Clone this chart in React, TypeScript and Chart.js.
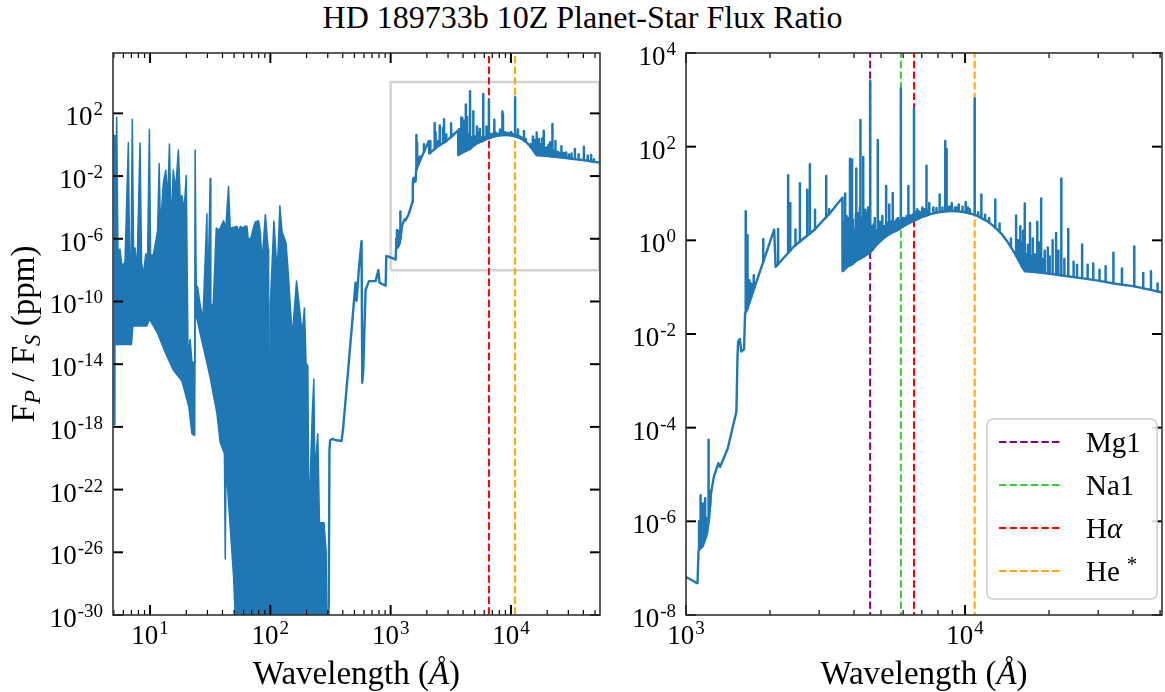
import React, { useEffect, useRef } from "react";
import { Chart, registerables } from "chart.js";

Chart.register(...registerables);

const BLUE = "#1f77b4";
const SERIF = '"Liberation Serif", "DejaVu Serif", serif';

const titleText = "HD 189733b 10Z Planet-Star Flux Ratio";

// X-ray / EUV line forest (5 - 300 Å): upper and lower envelopes
const forestTopWave = [
  4.95, 5.06, 5.11, 5.28, 5.41, 5.62, 5.84, 6.19, 6.6, 6.75,
  6.95, 7.12, 7.29, 7.5, 7.79, 8.25, 8.5, 8.8, 9.21, 9.53,
  9.87, 10.1, 10.65, 11.2, 11.55, 11.9, 12.2, 12.9, 13.5, 14.0,
  14.5, 14.8, 15.2, 15.6, 16.3, 17.2, 17.8, 18.4, 19.2, 20.0,
  20.7, 21.5, 22.3, 23.5, 23.7, 24.2, 24.8, 26.1, 27.5, 29.7,
  30.1, 31.6, 32.0, 33.5, 35.5, 37.6, 40.8, 42.6, 44.9, 46.4,
  52.8, 54.6, 56.2, 59.3, 59.8, 60.5, 61.0, 63.9, 65.6, 69.1,
  72.2, 75.0, 79.9, 82.5, 85.3, 90.9, 96.0, 96.8, 97.8, 100,
  107, 114, 120, 125, 135, 142, 152, 165, 172, 184,
  192, 198, 205, 209, 223, 230, 234, 248, 256, 279, 291, 297,
];
const forestTopFlux = [
  3.84, 3.84, 1.4e-7, 55.6, 1.4e-7, 2.2e-7, 1.8e-8, 3.3e-8, 1.33, 1.4e-7,
  3.3e-8, 42.6, 1.9e-7, 2.6e-7, 1.0e-8, 1.28, 3.3e-8, 4.9e-9, 1.1e-7, 3.3e-8,
  9.5, 9.1e-8, 9.1e-8, 8.3e-7, 3.6e-6, 0.063, 4.9e-6, 3.7e-3, 0.024, 3.0e-4,
  1.13, 3.0e-4, 1.15e-4, 0.024, 1.3e-3, 0.46, 3.0e-4, 5.7e-4, 6.8e-5, 0.0107,
  2.5e-14, 3.8e-13, 1.4e-14, 1.2e-14, 0.46, 9.1e-10, 9.1e-10, 6.4e-11, 7.4e-12, 4e-5,
  2.2e-11, 7e-3, 6.4e-11, 6.4e-11, 4.7e-6, 3.6e-6, 1.4e-5, 4.7e-6, 2.2e-3, 4.7e-6,
  6.2e-6, 2.8e-6, 6.2e-6, 4.9e-6, 1e-33, 1e-33, 6.2e-6, 6.2e-6, 8.3e-7, 1.2e-6,
  4.9e-6, 1.2e-5, 1.4e-5, 2.7e-6, 3.0e-8, 3.5e-5, 2e-7, 1e-33, 1e-33, 6.4e-11,
  1.35e-5, 6e-9, 1.3e-4, 2.8e-6, 5.6e-7, 2.7e-9, 5.4e-13, 2.0e-9, 1.07e-10, 8.9e-13,
  3.8e-11, 1.2e-14, 7.6e-15, 7.8e-25, 7e-18, 1.1e-15, 1.4e-21, 3.7e-19, 7.8e-25, 7.8e-25, 1.1e-26, 1e-33,
];
const forestBottomWave = [
  4.95, 5.06, 5.11, 7.0, 7.2, 9.4, 9.9, 11.5, 13.3, 15.6,
  18.4, 21.0, 22.3, 23.5, 23.7, 24.2, 26.1, 29.7, 31.6, 36.0,
  38.3, 41.5, 42.2, 42.9, 44.0, 49.5, 52.8, 300,
];
const forestBottomFlux = [
  1.4e-18, 1.4e-18, 1.8e-13, 1.8e-13, 2.7e-12, 2.7e-12, 7.6e-12, 1e-12, 6.3e-14, 4.3e-15,
  8.5e-16, 2e-17, 3.7e-19, 2.8e-19, 1.3e-11, 1.3e-11, 8.9e-13, 1.2e-14, 1.4e-15, 7e-18,
  1e-19, 2e-20, 3.8e-27, 5e-20, 1.6e-22, 2.5e-28, 1e-33, 1e-33,
];

// Continuum of the spectrum from 300 Å to the infrared
const continuumWave = [
  301, 306, 310, 314, 327, 355, 391, 403, 449, 511,
  521, 545, 573, 581, 592, 619, 660, 750, 790, 809,
  909, 920, 981, 1000, 1096, 1100, 1109, 1150, 1190, 1212,
  1229, 1258, 1306, 1324, 1411, 1516, 1529, 1537, 1560, 1578,
  1614, 1628, 1650, 2070, 2095, 2435, 2893, 3300, 3634, 3640,
  3700, 3800, 3937, 4100, 4218, 4350, 4571, 4800, 5100, 5400,
  5800, 6200, 6563, 7000, 7500, 8000, 8500, 9000, 9500, 10000,
  10500, 11000, 11500, 12000, 12500, 13000, 13600, 14200, 14800, 15400,
  16000, 16400, 18000, 20000, 22000, 25000, 30000, 35000, 40000, 45000,
  50000, 55000,
];
const continuumFlux = [
  1e-32, 9e-30, 3.4e-20, 1.4e-19, 1.7e-19, 1.4e-19, 1.25e-19, 8.5e-19, 1.3e-14, 1.6e-9,
  1.1e-10, 1.35e-8, 7e-7, 6.6e-16, 4.3e-15, 5.4e-10, 2e-9, 2e-9, 1e-8, 1.6e-9,
  1.0e-9, 7.9e-8, 6.9e-8, 6.5e-8, 4.8e-8, 4.9e-8, 2.4e-7, 3.0e-7, 5.6e-7, 1.26e-6,
  3.9e-6, 8.9e-6, 1.74e-5, 1.45e-5, 3.6e-5, 2.2e-4, 3.0e-3, 6.9e-3, 7.8e-3, 4.2e-3,
  4.7e-3, 0.0275, 0.0316, 1.7, 0.27, 0.74, 1.7, 4.0, 8.1, 0.22,
  0.24, 0.28, 0.31, 0.38, 0.41, 0.46, 0.55, 0.79, 1.12, 1.41,
  1.74, 2.24, 2.63, 3.16, 3.63, 3.98, 4.17, 4.27, 4.17, 3.98,
  3.72, 3.39, 2.95, 2.57, 2.14, 1.74, 1.32, 0.93, 0.63, 0.42,
  0.275, 0.22, 0.21, 0.195, 0.18, 0.162, 0.138, 0.117, 0.105, 0.091,
  0.079, 0.072,
];

// Emission lines on top of the continuum: wavelength, continuum level, peak
const spikeWave = [
  1114, 1128, 1140, 1148, 1160, 1171, 1180, 1205, 1220,
  1637, 1661, 1686, 1713, 1749, 1892, 2138,
  2323, 2364, 2468, 2560, 2720, 2780, 2900, 3180, 3259,
  3655, 3670, 3700, 3718, 3730, 3760, 3790, 3820, 3850, 3870,
  3900, 3937, 3965, 3995, 4025, 4060, 4076, 4100, 4135, 4170,
  4200, 4218, 4250, 4285, 4316, 4350, 4385, 4420, 4455, 4490, 4530, 4571,
  4650, 4704, 4750, 4868, 4950, 5053, 5126, 5215, 5276, 5352,
  5429, 5508, 5600, 5750, 5890, 6000, 6266, 6400, 6563, 6733,
  6900, 7029, 7275, 7443, 7700, 8111, 8300, 8492, 8541, 8590,
  8700, 8968, 9200, 9497, 9800, 10058, 10400, 10830, 11442, 11800,
  12834, 13300, 14602,
  15242, 15500, 15776, 16000, 16150, 16373, 16800, 17094, 17500, 18150,
  18400, 18740, 19300, 19800, 20600, 21200, 21600, 22130, 23440, 24500,
  25200, 26280, 27500, 28800, 30340, 31900, 34020, 36500, 40420, 43500,
  46380, 49000,
  4800, 4900, 5000, 5170, 5320, 5470, 5680, 5820, 6100, 6180,
  6350, 6480, 6650, 6820, 7150, 7380, 7900, 8800, 9350, 10250,
  11150, 12200, 16600, 17300, 17800, 19000, 20100, 22700,
];
const spikeBase = [
  2.5e-7, 2.7e-7, 2.9e-7, 3.0e-7, 3.5e-7, 4.2e-7, 4.8e-7, 1.0e-6, 2.2e-6,
  0.03, 0.035, 0.047, 0.061, 0.088, 0.35, 0.31,
  0.54, 0.6, 0.79, 0.94, 1.27, 1.41, 1.7, 3.1, 3.6,
  0.225, 0.23, 0.24, 0.245, 0.25, 0.265, 0.275, 0.285, 0.29, 0.295,
  0.3, 0.31, 0.32, 0.335, 0.345, 0.36, 0.37, 0.38, 0.39, 0.4,
  0.405, 0.41, 0.42, 0.435, 0.45, 0.46, 0.475, 0.49, 0.51, 0.52, 0.535, 0.55,
  0.62, 0.68, 0.73, 0.86, 0.95, 1.05, 1.14, 1.22, 1.28, 1.37,
  1.44, 1.5, 1.57, 1.7, 1.85, 1.97, 2.3, 2.45, 2.63, 2.85,
  3.0, 3.18, 3.4, 3.58, 3.78, 4.02, 4.1, 4.17, 4.18, 4.19,
  4.21, 4.26, 4.25, 4.17, 4.06, 3.95, 3.77, 3.5, 3.0, 2.75,
  1.86, 1.55, 0.72,
  0.47, 0.39, 0.33, 0.275, 0.25, 0.222, 0.218, 0.216, 0.214, 0.209,
  0.207, 0.205, 0.2, 0.196, 0.19, 0.186, 0.184, 0.179, 0.172, 0.165,
  0.161, 0.156, 0.151, 0.145, 0.137, 0.129, 0.121, 0.113, 0.104, 0.095,
  0.089, 0.082,
  0.79, 0.9, 1.0, 1.18, 1.33, 1.47, 1.63, 1.75, 2.1, 2.2,
  2.4, 2.55, 2.72, 2.93, 3.28, 3.52, 3.92, 4.24, 4.2, 3.85,
  3.28, 2.4, 0.22, 0.215, 0.211, 0.2, 0.193, 0.176,
];
const spikeTop = [
  1.0e-6, 3.6e-6, 2.0e-6, 2.4e-6, 1.5e-6, 3.1e-6, 1.2e-6, 5.5e-5, 4.5e-6,
  4.2, 1.3, 0.14, 0.12, 0.18, 1.07, 1.74,
  24.5, 6.3, 1.7, 16.6, 12, 42, 4.5, 23.6, 4.6,
  2.5, 1.6, 2.2, 10, 1.8, 3.3, 1.5, 3.0, 2.4, 55,
  2.0, 53, 2.8, 1.7, 1.3, 3.5, 34, 2.4, 3.8, 2.2,
  5.0, 372, 3.0, 2.5, 60, 2.8, 4.5, 3.9, 3.0, 5.0, 2.5, 2570,
  2.0, 2.2, 3.0, 138, 2.5, 3.3, 2.0, 14.5, 2.2, 5.8,
  2.5, 10.3, 2.5, 3.0, 1740, 3.0, 14.5, 3.2, 646, 4.6,
  4.0, 5.0, 39, 6.3, 5.0, 9.5, 5.0, 132, 63, 89,
  5.0, 6.3, 5.0, 5.8, 5.2, 6.6, 4.6, 1070, 9.5, 3.5,
  7.4, 2.3, 1.1,
  3.4, 1.0, 2.0, 0.9, 1.6, 6.1, 0.8, 2.35, 1.1, 2.5,
  0.9, 7.8, 0.6, 0.7, 1.0, 1.44, 0.6, 21, 1.74, 0.35,
  0.3, 0.81, 0.3, 0.32, 0.235, 0.28, 0.54, 0.25, 0.74, 0.2,
  0.22, 0.12,
  1.6, 1.8, 2.4, 2.0, 2.4, 2.6, 2.8, 2.6, 3.0, 3.3,
  3.4, 3.5, 4.0, 4.2, 4.6, 4.4, 4.9, 5.3, 5.0, 5.0,
  4.0, 3.0, 0.5, 0.45, 0.5, 0.4, 0.45, 0.4,
];

// Marked lines
const markerNames = ["Mg1", "Na1", "Hα", "He*"];
const markerWave = [4571, 5890, 6563, 10830];
const markerColor = ["#800080", "#32cd32", "#ff0000", "#ffa500"];
const leftMarkerIdx = [2, 3];

// Axis ranges and ticks
const leftXRange = [4.92, 55000];
const leftYRange = [1e-30, 7.1e5];
const rightXRange = [1000, 50800];
const rightYRange = [1e-8, 1e4];
const leftXTicks = [1e1, 1e2, 1e3, 1e4];
const leftYTicks = [1e-30, 1e-26, 1e-22, 1e-18, 1e-14, 1e-10, 1e-6, 1e-2, 1e2];
const rightXTicks = [1e3, 1e4];
const rightYTicks = [1e-8, 1e-6, 1e-4, 1e-2, 1e0, 1e2, 1e4];

// Zoom box drawn on the left panel
const insetWave = [1000, 1000, 54000, 54000, 1000];
const insetFlux = [1e-8, 1e4, 1e4, 1e-8, 1e-8];

const DASH = [7.4, 3.2];

const pts = (xs: number[], ys: number[]) => xs.map((x, i) => ({ x, y: ys[i] }));
const spikePts = () => {
  const out: { x: number; y: number | null }[] = [];
  spikeWave.forEach((w, i) => {
    out.push({ x: w, y: spikeBase[i] });
    out.push({ x: w, y: spikeTop[i] });
    out.push({ x: w, y: null });
  });
  return out;
};

type Run = [string, string, number];

function drawRuns(ctx: CanvasRenderingContext2D, runs: Run[], x: number, y: number, align: "center" | "left" | "right") {
  let total = 0;
  const widths = runs.map(([t, f]) => {
    ctx.font = f;
    const w = ctx.measureText(t).width;
    total += w;
    return w;
  });
  let cx = align === "center" ? x - total / 2 : align === "right" ? x - total : x;
  ctx.textAlign = "left";
  ctx.textBaseline = "alphabetic";
  runs.forEach(([t, f, dy], i) => {
    ctx.font = f;
    ctx.fillText(t, cx, y + dy);
    cx += widths[i];
  });
}

function pow10Label(ctx: CanvasRenderingContext2D, value: number, x: number, baseline: number, align: "center" | "right") {
  const e = Math.round(Math.log10(value));
  const sup = e < 0 ? "-" + String(-e) : String(e);
  drawRuns(
    ctx,
    [
      ["10", `27px ${SERIF}`, 0],
      [" ", `4px ${SERIF}`, 0],
      [sup, `19px ${SERIF}`, -10],
    ],
    x,
    baseline,
    align
  );
}

function legendRuns(name: string): Run[] {
  const f = `29px ${SERIF}`;
  if (name.endsWith("α")) return [[name.slice(0, -1), f, 0], ["α", `italic 29px ${SERIF}`, 0]];
  if (name.endsWith("*")) return [[name.slice(0, -1), f, 0], ["  ", `14px ${SERIF}`, 0], ["*", `21px ${SERIF}`, -10]];
  return [[name, f, 0]];
}

function makeAxesPlugin(xTicks: number[], yTicks: number[], yTitle: boolean, legend: boolean) {
  return {
    id: "mplAxes",
    afterDraw(chart: any) {
      const ctx: CanvasRenderingContext2D = chart.ctx;
      const ca = chart.chartArea;
      const xs = chart.scales.x;
      const ys = chart.scales.y;
      ctx.save();
      const seg = (x1: number, y1: number, x2: number, y2: number) => {
        ctx.beginPath();
        ctx.moveTo(x1, y1);
        ctx.lineTo(x2, y2);
        ctx.stroke();
      };
      ctx.strokeStyle = "#000";
      ctx.lineCap = "butt";
      ctx.lineWidth = 1.2;
      const d0 = Math.floor(Math.log10(xs.min));
      const d1 = Math.ceil(Math.log10(xs.max));
      for (let d = d0; d <= d1; d++) {
        for (let m = 2; m <= 9; m++) {
          const v = m * Math.pow(10, d);
          if (v <= xs.min || v >= xs.max) continue;
          const px = xs.getPixelForValue(v);
          seg(px, ca.bottom, px, ca.bottom - 5);
          seg(px, ca.top, px, ca.top + 5);
        }
      }
      ctx.lineWidth = 2;
      xTicks.forEach((v) => {
        const px = xs.getPixelForValue(v);
        seg(px, ca.bottom, px, ca.bottom - 10);
        seg(px, ca.top, px, ca.top + 10);
      });
      yTicks.forEach((v) => {
        const py = ys.getPixelForValue(v);
        seg(ca.left, py, ca.left + 10, py);
        seg(ca.right, py, ca.right - 10, py);
      });
      ctx.strokeStyle = "#333";
      ctx.lineWidth = 1.6;
      ctx.strokeRect(ca.left, ca.top, ca.right - ca.left, ca.bottom - ca.top);
      ctx.fillStyle = "#000";
      xTicks.forEach((v) => pow10Label(ctx, v, xs.getPixelForValue(v), ca.bottom + 29, "center"));
      yTicks.forEach((v) => pow10Label(ctx, v, ca.left - 10, ys.getPixelForValue(v) + 12, "right"));
      drawRuns(
        ctx,
        [
          ["Wavelength (", `33px ${SERIF}`, 0],
          ["Å", `italic 33px ${SERIF}`, 0],
          [")", `33px ${SERIF}`, 0],
        ],
        (ca.left + ca.right) / 2,
        684,
        "center"
      );
      if (yTitle) {
        ctx.save();
        ctx.translate(34, (ca.top + ca.bottom) / 2);
        ctx.rotate(-Math.PI / 2);
        drawRuns(
          ctx,
          [
            ["F", `33px ${SERIF}`, 0],
            ["P", `italic 23px ${SERIF}`, 6],
            [" / F", `33px ${SERIF}`, 0],
            ["S", `italic 23px ${SERIF}`, 6],
            [" (ppm)", `33px ${SERIF}`, 0],
          ],
          0,
          0,
          "center"
        );
        ctx.restore();
      }
      if (legend) {
        const bw = 170;
        const bh = 180;
        const bx = ca.right - 5 - bw;
        const by = ca.bottom - 16 - bh;
        ctx.beginPath();
        if ((ctx as any).roundRect) (ctx as any).roundRect(bx, by, bw, bh, 6);
        else ctx.rect(bx, by, bw, bh);
        ctx.fillStyle = "rgba(255,255,255,0.85)";
        ctx.fill();
        ctx.strokeStyle = "#cccccc";
        ctx.lineWidth = 1.5;
        ctx.stroke();
        markerNames.forEach((name, i) => {
          const cy = by + 23 + i * 43;
          ctx.strokeStyle = markerColor[i];
          ctx.lineWidth = 2;
          ctx.setLineDash(DASH);
          seg(bx + 12, cy, bx + 74, cy);
          ctx.setLineDash([]);
          ctx.fillStyle = "#000";
          drawRuns(ctx, legendRuns(name), bx + 99, cy + 10, "left");
        });
      }
      ctx.restore();
    },
  };
}

function markerDataset(i: number, yLo: number, yHi: number) {
  return {
    label: markerNames[i],
    data: [
      { x: markerWave[i], y: yLo },
      { x: markerWave[i], y: yHi },
    ],
    showLine: true,
    borderColor: markerColor[i],
    borderWidth: 2,
    borderDash: DASH,
    pointRadius: 0,
    fill: false,
    order: 3,
  };
}

function spectrumDatasets() {
  return [
    {
      label: "continuum",
      data: pts(continuumWave, continuumFlux),
      showLine: true,
      borderColor: BLUE,
      borderWidth: 2.4,
      borderJoinStyle: "round",
      borderCapStyle: "round",
      pointRadius: 0,
      fill: false,
      order: 1,
    },
    {
      label: "lines",
      data: spikePts(),
      showLine: true,
      spanGaps: false,
      borderColor: BLUE,
      borderWidth: 2.5,
      borderCapStyle: "round",
      pointRadius: 0,
      fill: false,
      order: 1,
    },
  ];
}

function baseOptions(xr: number[], yr: number[], padding: any) {
  return {
    responsive: false,
    maintainAspectRatio: false,
    animation: false as const,
    layout: { padding },
    plugins: { legend: { display: false }, tooltip: { enabled: false }, title: { display: false } },
    events: [] as any[],
    scales: {
      x: { type: "logarithmic" as const, min: xr[0], max: xr[1], display: false },
      y: { type: "logarithmic" as const, min: yr[0], max: yr[1], display: false },
    },
  };
}

function leftConfig(): any {
  return {
    type: "scatter",
    data: {
      datasets: [
        {
          label: "forest upper",
          data: pts(forestTopWave, forestTopFlux),
          showLine: true,
          borderColor: BLUE,
          backgroundColor: BLUE,
          borderWidth: 1.5,
          borderJoinStyle: "round",
          pointRadius: 0,
          fill: 1,
          order: 2,
        },
        {
          label: "forest lower",
          data: pts(forestBottomWave, forestBottomFlux),
          showLine: true,
          borderColor: BLUE,
          borderWidth: 1.5,
          borderJoinStyle: "round",
          pointRadius: 0,
          fill: false,
          order: 2,
        },
        ...spectrumDatasets(),
        {
          label: "zoom box",
          data: pts(insetWave, insetFlux),
          showLine: true,
          borderColor: "#d3d3d3",
          borderWidth: 2.5,
          pointRadius: 0,
          fill: false,
          order: 4,
        },
        ...leftMarkerIdx.map((i) => markerDataset(i, 1e-32, 1e7)),
      ],
    },
    options: baseOptions(leftXRange, leftYRange, { left: 113, top: 53, right: 20, bottom: 77 }),
    plugins: [makeAxesPlugin(leftXTicks, leftYTicks, true, false)],
  };
}

function rightConfig(): any {
  return {
    type: "scatter",
    data: {
      datasets: [...spectrumDatasets(), ...markerNames.map((_, i) => markerDataset(i, 1e-9, 1e5))],
    },
    options: baseOptions(rightXRange, rightYRange, { left: 66, top: 53, right: 3, bottom: 77 }),
    plugins: [makeAxesPlugin(rightXTicks, rightYTicks, false, true)],
  };
}

export default function App() {
  const leftRef = useRef<HTMLCanvasElement>(null);
  const rightRef = useRef<HTMLCanvasElement>(null);
  useEffect(() => {
    const c1 = new Chart(leftRef.current as HTMLCanvasElement, leftConfig());
    const c2 = new Chart(rightRef.current as HTMLCanvasElement, rightConfig());
    return () => {
      c1.destroy();
      c2.destroy();
    };
  }, []);
  return (
    <div style={{ position: "absolute", left: 0, top: 0, width: 1165, height: 692, background: "#fff", overflow: "hidden" }}>
      <div
        style={{
          position: "absolute",
          left: 0,
          top: 0,
          width: 1165,
          textAlign: "center",
          fontFamily: SERIF,
          fontSize: 32,
          lineHeight: "34px",
          color: "#000",
        }}
      >
        {titleText}
      </div>
      <canvas ref={leftRef} width={620} height={692} style={{ position: "absolute", left: 0, top: 0, width: 620, height: 692 }} />
      <canvas ref={rightRef} width={545} height={692} style={{ position: "absolute", left: 620, top: 0, width: 545, height: 692 }} />
    </div>
  );
}
